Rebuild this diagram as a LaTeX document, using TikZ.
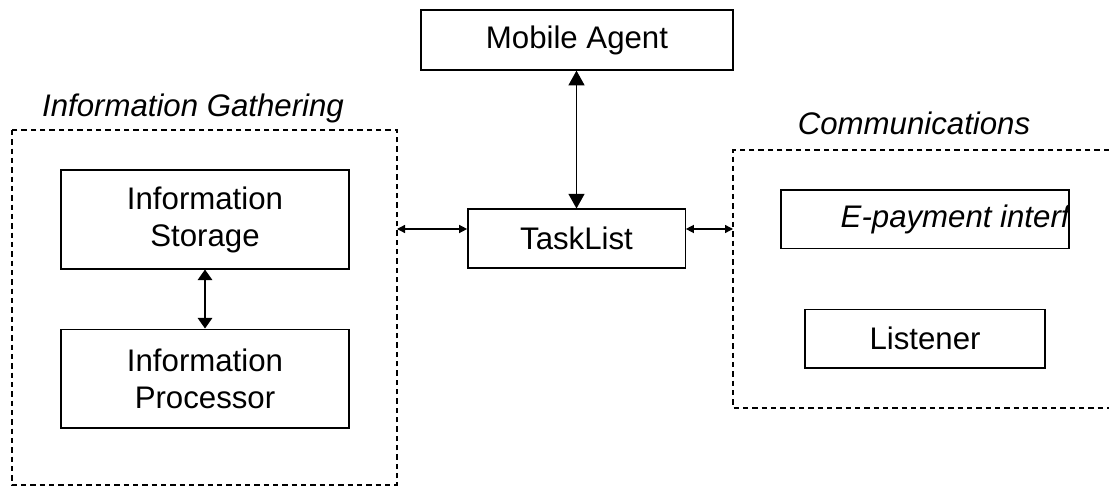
\documentclass[tikz,border=0pt]{standalone}
\usepackage{fontspec}
\setmainfont{Liberation Sans}
\usetikzlibrary{arrows.meta}
\tikzset{unit/.style={draw,line width=1pt,inner sep=0pt,align=center,
        font=\fontsize{23.4}{27.8}\selectfont},
    group/.style={draw,line width=1pt,dash pattern=on 4pt off 3pt},
    grouplabel/.style={font=\fontsize{23.4}{27.8}\selectfont\itshape},
    bigarrow/.style={line width=1pt,{Triangle[length=11pt,width=12pt]}-{Triangle[length=11pt,width=12pt]}},
    midarrow/.style={line width=1pt,{Triangle[length=8pt,width=11pt]}-{Triangle[length=8pt,width=11pt]}},
    smallarrow/.style={line width=1pt,{Triangle[length=6pt,width=6pt]}-{Triangle[length=6pt,width=6pt]}}}

\begin{document}
\begin{tikzpicture}[x=0.75pt,y=-0.75pt]
\useasboundingbox (0,0) rectangle (1109,488);
% agent and task list
\node[unit,minimum width=234pt,minimum height=45pt] (agent) at (577,40) {Mobile Agent};
\node[unit,minimum width=163pt,minimum height=44pt] (tasks) at (576.5,238.5) {TaskList};
% information gathering group
\draw[group] (12,130) rectangle (397,485);
\coordinate (gatherE) at (397,229);
\node[grouplabel] (gatherlbl) at (193,108) {Information Gathering};
\node[unit,minimum width=216pt,minimum height=74pt] (storage) at (205,219.5) {Information\\Storage};
\node[unit,minimum width=216pt,minimum height=74pt] (proc) at (205,378.5) {Information\\Processor};
% communications group, open on the right
\draw[group] (1109,150) -- (733,150) -- (733,408) -- (1109,408);
\coordinate (commW) at (733,229);
\node[grouplabel] (commlbl) at (914,123) {Communications};
\node[unit,minimum width=216pt,minimum height=44pt] (epay) at (925,219.5) {};
\begin{scope}
\clip (epay.south west) rectangle (epay.north east);
\node[grouplabel,anchor=west] (epaytxt) at (836,219.5) {E-payment interface};
\end{scope}
\node[unit,minimum width=180pt,minimum height=44pt] (listen) at (925,338.5) {Listener};
% links
\draw[bigarrow] (agent.south -| tasks.north) -- (tasks.north);
\draw[midarrow] (storage) -- (proc);
\draw[smallarrow] (gatherE) -- (tasks.west |- gatherE);
\draw[smallarrow] (tasks.east |- commW) -- (commW);
\end{tikzpicture}
\end{document}
